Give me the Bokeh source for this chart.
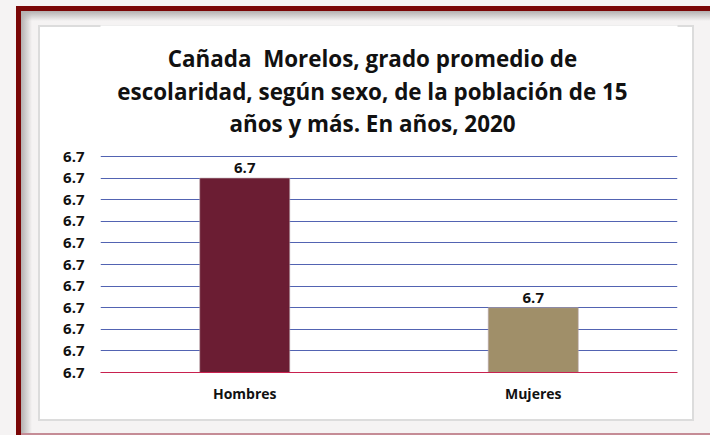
from bokeh.plotting import figure
from bokeh.models import Label, FixedTicker, PrintfTickFormatter, ColumnDataSource, LabelSet
from bokeh.core.properties import value
from bokeh.embed import file_html
from bokeh.resources import INLINE

categories = ["Hombres", "Mujeres"]
values = [6.70, 6.67]
bar_colors = ["#6B1D33", "#A08F69"]
y_ticks = [6.655, 6.66, 6.665, 6.67, 6.675, 6.68, 6.685, 6.69, 6.695, 6.70, 6.705]
title_lines = ["Cañada\u00a0 Morelos, grado promedio de",
               "escolaridad, según sexo, de la población de 15",
               "años y más. En años, 2020"]

FONT = "Open Sans"

# layout (pixels inside the figure)
W, H = 710, 435
LEFT, RIGHT, TOP, BOTTOM = 100, 33, 25, 63
GRID_TOP = 156                      # pixel row of the highest gridline
grid_px = (H - BOTTOM) - GRID_TOP
upp = (y_ticks[-1] - y_ticks[0]) / grid_px          # data units per pixel
y_end = y_ticks[-1] + (GRID_TOP - TOP) * upp


def py(pix):
    """pixel row inside the figure -> y data value"""
    return y_ticks[-1] + (GRID_TOP - pix) * upp


p = figure(x_range=categories, y_range=(y_ticks[0], y_end),
           width=W, height=H, output_backend="svg", toolbar_location=None,
           min_border_left=LEFT, min_border_right=RIGHT, min_border_top=TOP,
           min_border_bottom=BOTTOM)
p.x_range.range_padding = 0
p.border_fill_color = None
p.background_fill_color = "white"
p.outline_line_color = None

red = "#7A0606"
p.styles = {
    "background": (
        f"linear-gradient({red},{red}) 16px 6px / 694px 5px no-repeat, "
        f"linear-gradient({red},{red}) 16px 6px / 5px 429px no-repeat, "
        "linear-gradient(#c58c96,#c58c96) 21px 433px / 689px 2px no-repeat, "
        "linear-gradient(to bottom, #b4b0b0, rgba(245,243,243,0)) 21px 11px / 689px 10px no-repeat, "
        "linear-gradient(to right, #b4b0b0, rgba(245,243,243,0)) 21px 11px / 11px 422px no-repeat, "
        "linear-gradient(#ffffff,#ffffff) 40px 27px / 652px 392px no-repeat, "
        "linear-gradient(#dcdcdc,#dcdcdc) 38px 25px / 656px 396px no-repeat, "
        "#f5f3f3"
    )
}

src = ColumnDataSource(dict(cat=categories, val=values, color=bar_colors,
                            lab=[f"{v:.1f}" for v in values]))
p.vbar(x="cat", top="val", bottom=y_ticks[0], width=0.312, fill_color="color",
       line_color="#b9a8ac", line_width=0.6, source=src)

p.add_layout(LabelSet(x="cat", y="val", text="lab", source=src, y_offset=5,
                      text_align="center", text_baseline="bottom",
                      text_font=value(FONT), text_font_style="bold", text_font_size="15px",
                      text_color="#111111"))

title_x = (372 - LEFT) / ((W - LEFT - RIGHT) / len(categories))   # synthetic categorical coordinate
for i, t in enumerate(title_lines):
    p.add_layout(Label(x=title_x, y=py(58 + 32.5 * i), text=t,
                       text_align="center", text_baseline="middle", text_font=FONT,
                       text_font_style="bold", text_font_size="22.4px", text_color="#111111"))

p.yaxis.ticker = FixedTicker(ticks=y_ticks)
p.yaxis.formatter = PrintfTickFormatter(format="%.1f")
p.yaxis.axis_line_color = None
p.yaxis.major_tick_line_color = None
p.yaxis.minor_tick_line_color = None
p.yaxis.major_label_standoff = 10
p.yaxis.major_label_text_font = FONT
p.yaxis.major_label_text_font_style = "bold"
p.yaxis.major_label_text_font_size = "15px"
p.yaxis.major_label_text_color = "#111111"

p.xaxis.axis_line_color = "#C8214F"
p.xaxis.axis_line_width = 1
p.xaxis.major_tick_line_color = None
p.xaxis.minor_tick_line_color = None
p.xaxis.major_label_standoff = 5
p.xaxis.major_label_text_font = FONT
p.xaxis.major_label_text_font_style = "bold"
p.xaxis.major_label_text_font_size = "14px"
p.xaxis.major_label_text_color = "#111111"

p.xgrid.grid_line_color = None
p.ygrid.grid_line_color = "#5263B2"
p.ygrid.grid_line_width = 1

open("out.html", "w").write(file_html(p, INLINE))
